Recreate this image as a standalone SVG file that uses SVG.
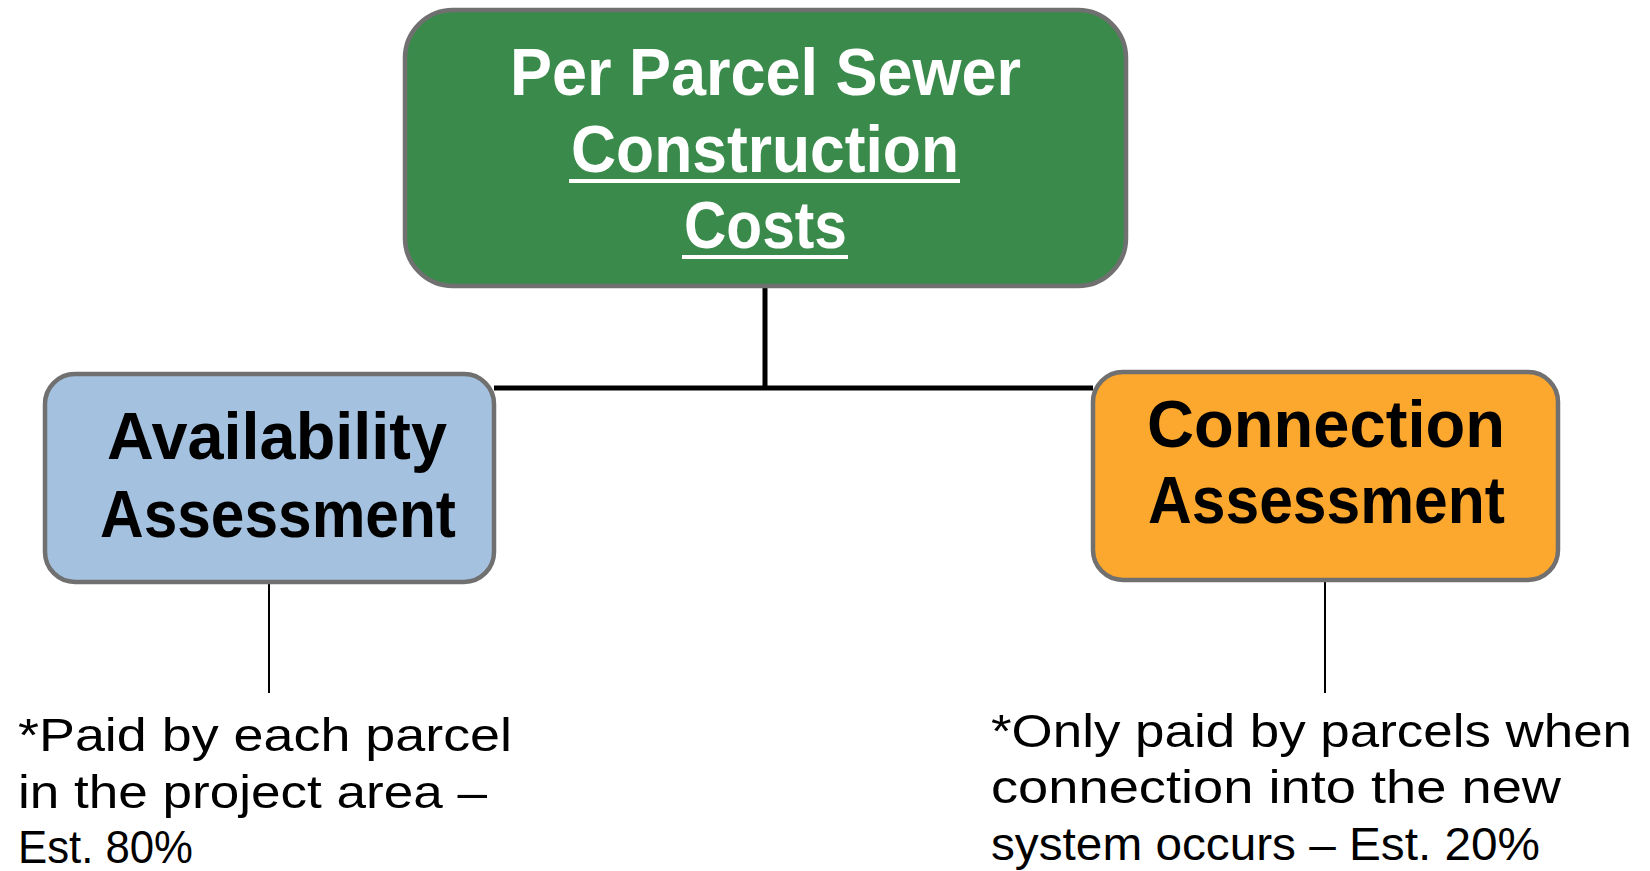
<svg xmlns="http://www.w3.org/2000/svg" width="1650" height="871" viewBox="0 0 1650 871">
  <style>
    .box { stroke: #707070; stroke-width: 4.5; }
    .title { font-family: "Liberation Sans", Arial, sans-serif; font-weight: bold; font-size: 66px; }
    .note { font-family: "Liberation Sans", Arial, sans-serif; font-size: 47px; fill: #000; }
    .link { stroke: #000; fill: none; }
  </style>
  <rect width="1650" height="871" fill="#ffffff"/>

  <!-- connectors -->
  <g id="connectors">
    <line class="link" x1="765" y1="286" x2="765" y2="388" stroke-width="5"/>
    <line class="link" x1="494" y1="388" x2="1093" y2="388" stroke-width="5"/>
    <line class="link" x1="269" y1="582" x2="269" y2="693" stroke-width="2"/>
    <line class="link" x1="1325" y1="580" x2="1325" y2="693" stroke-width="2"/>
  </g>

  <!-- top node -->
  <g id="node-construction-costs">
    <rect class="box" x="405" y="10" width="721" height="276" rx="48" ry="48" fill="#3a8a4c" stroke-width="5"/>
    <text class="title" fill="#ffffff" x="510" y="95" textLength="511" lengthAdjust="spacingAndGlyphs">Per Parcel Sewer</text>
    <text class="title" fill="#ffffff" x="571" y="172" textLength="388" lengthAdjust="spacingAndGlyphs">Construction</text>
    <rect x="569" y="179" width="391" height="4" fill="#ffffff"/>
    <text class="title" fill="#ffffff" x="684" y="248" textLength="163" lengthAdjust="spacingAndGlyphs">Costs</text>
    <rect x="682" y="255" width="166" height="4" fill="#ffffff"/>
  </g>

  <!-- left node -->
  <g id="node-availability">
    <rect class="box" x="45" y="374" width="449" height="208" rx="30" ry="30" fill="#a4c2e0"/>
    <text class="title" fill="#000000" x="107" y="459" textLength="340" lengthAdjust="spacingAndGlyphs">Availability</text>
    <text class="title" fill="#000000" x="100" y="537" textLength="356" lengthAdjust="spacingAndGlyphs">Assessment</text>
  </g>

  <!-- right node -->
  <g id="node-connection">
    <rect class="box" x="1093" y="372" width="465" height="208" rx="30" ry="30" fill="#fca82e"/>
    <text class="title" fill="#000000" x="1147" y="447" textLength="358" lengthAdjust="spacingAndGlyphs">Connection</text>
    <text class="title" fill="#000000" x="1148" y="523" textLength="357" lengthAdjust="spacingAndGlyphs">Assessment</text>
  </g>

  <!-- notes -->
  <g id="note-availability">
    <text class="note" x="18" y="751" textLength="494" lengthAdjust="spacingAndGlyphs">*Paid by each parcel</text>
    <text class="note" x="18" y="808" textLength="469" lengthAdjust="spacingAndGlyphs">in the project area –</text>
    <text class="note" x="18" y="863" textLength="175" lengthAdjust="spacingAndGlyphs">Est. 80%</text>
  </g>
  <g id="note-connection">
    <text class="note" x="991" y="747" textLength="641" lengthAdjust="spacingAndGlyphs">*Only paid by parcels when</text>
    <text class="note" x="991" y="803" textLength="570" lengthAdjust="spacingAndGlyphs">connection into the new</text>
    <text class="note" x="991" y="860" textLength="549" lengthAdjust="spacingAndGlyphs">system occurs – Est. 20%</text>
  </g>
</svg>
